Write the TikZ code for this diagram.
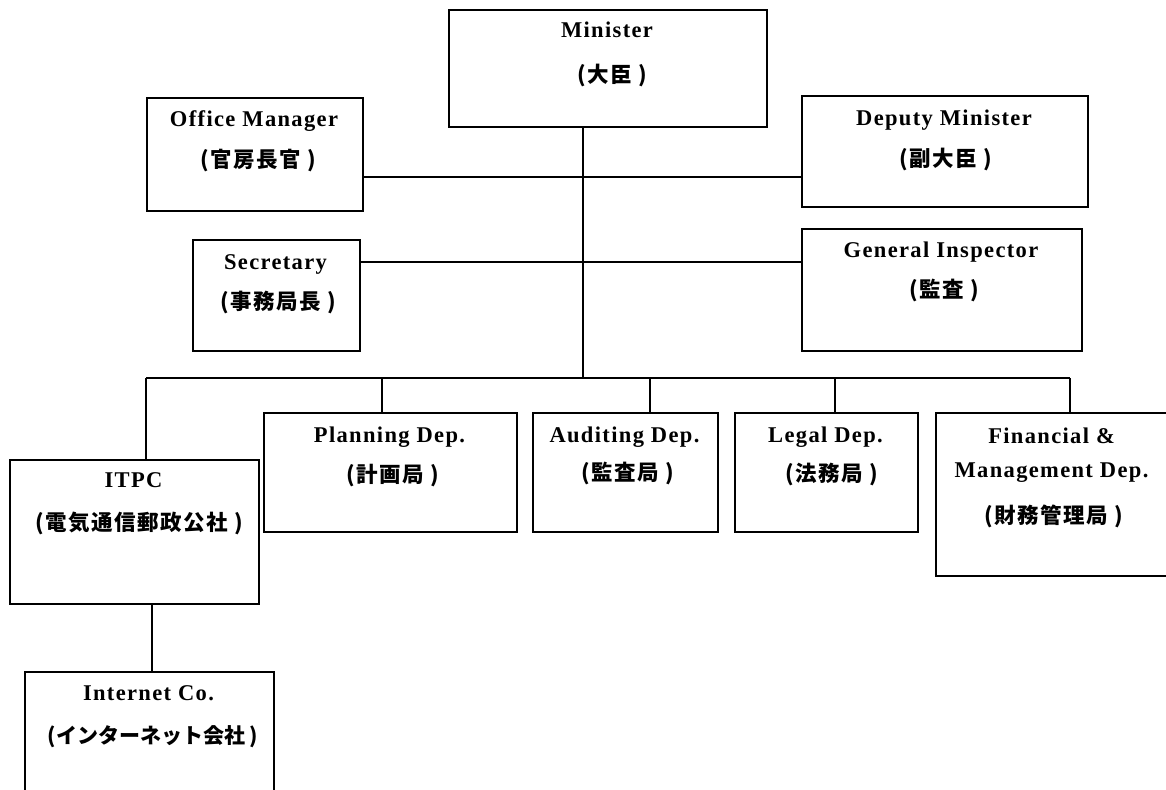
\documentclass[tikz,border=0pt]{standalone}
\usepackage{fontspec}
\newfontfamily\enfont{Liberation Serif}[LetterSpace=6]
\newfontfamily\jpfont{Noto Sans CJK JP}[LetterSpace=7]
\newfontfamily\jptightfont{Noto Sans CJK JP}
\usepackage{tikz}
\usetikzlibrary{positioning,calc}

\tikzset{
    unitbox/.style={draw, line width=2pt, anchor=north west, inner sep=0pt},
    link/.style={line width=1.6pt},
    entext/.style={font=\enfont\bfseries\fontsize{22.5}{27}\selectfont, anchor=base, inner sep=0pt},
    jptext/.style={font=\jpfont\bfseries\fontsize{21.5}{26}\selectfont, inner sep=0pt},
    jptight/.style={jptext, font=\jptightfont\bfseries\fontsize{21}{26}\selectfont}
}

\begin{document}
\begin{tikzpicture}[x=1pt, y=-1pt]
    \useasboundingbox (0,0) rectangle (1166,789);
    \fill[white] (0,0) rectangle (1166,789);
    \clip (0,0) rectangle (1166,789);

    % top level
    \node[unitbox, minimum width=318, minimum height=117] (mini) at (448,9) {};
    \node[entext] (mini-en) at (607,38) {Minister};
    \node[jptext] (mini-jp) at (612,76) {(大臣 )};

    \node[unitbox, minimum width=216, minimum height=113] (offm) at (146,97) {};
    \node[entext] (offm-en) at (254,127) {Office Manager};
    \node[jptext] (offm-jp) at (258,161) {(官房長官 )};

    \node[unitbox, minimum width=286, minimum height=111] (depm) at (801,95) {};
    \node[entext] (depm-en) at (944,125) {Deputy Minister};
    \node[jptext] (depm-jp) at (946,160) {(副大臣 )};

    \node[unitbox, minimum width=167, minimum height=111] (secr) at (192,239) {};
    \node[entext] (secr-en) at (275.5,269) {Secretary};
    \node[jptext] (secr-jp) at (278,302) {(事務局長 )};

    \node[unitbox, minimum width=280, minimum height=122] (insp) at (801,228) {};
    \node[entext] (insp-en) at (941,257) {General Inspector};
    \node[jptext] (insp-jp) at (944,291) {(監査 )};

    % departments
    \node[unitbox, minimum width=249, minimum height=144] (itpc) at (9,459) {};
    \node[entext] (itpc-en) at (133.5,487) {ITPC};
    \node[jptext] (itpc-jp) at (139,523) {(電気通信郵政公社 )};

    \node[unitbox, minimum width=253, minimum height=119] (plan) at (263,412) {};
    \node[entext] (plan-en) at (389.5,442) {Planning Dep.};
    \node[jptext] (plan-jp) at (393,476) {(計画局 )};

    \node[unitbox, minimum width=185, minimum height=119] (audi) at (532,412) {};
    \node[entext] (audi-en) at (624.5,442) {Auditing Dep.};
    \node[jptext] (audi-jp) at (628,474) {(監査局 )};

    \node[unitbox, minimum width=183, minimum height=119] (legl) at (734,412) {};
    \node[entext] (legl-en) at (825.5,442) {Legal Dep.};
    \node[jptext] (legl-jp) at (832,474) {(法務局 )};

    \node[unitbox, minimum width=233, minimum height=163] (fina) at (935,412) {};
    \node[entext] (fina-en1) at (1051.5,443) {Financial \&};
    \node[entext] (fina-en2) at (1051.5,477) {Management Dep.};
    \node[jptext] (fina-jp) at (1054,516) {(財務管理局 )};

    \node[unitbox, minimum width=249, minimum height=140] (inet) at (24,671) {};
    \node[entext] (inet-en) at (148.5,700) {Internet Co.};
    \node[jptight] (inet-jp) at (153,737) {(インターネット会社 )};

    % connectors
    \coordinate (trunk) at (583,378);
    \coordinate (busl) at (146,378);
    \coordinate (busr) at (1070,378);
    \draw[link] (trunk |- mini.south) -- (trunk);
    \draw[link] (offm.east |- 0,177) -- (depm.west |- 0,177);
    \draw[link] (secr.east |- 0,262) -- (insp.west |- 0,262);
    \draw[link] (busl) -- (busr);
    \foreach \n/\x in {itpc/146, plan/382, audi/650, legl/835, fina/1070}
        \draw[link] (\x,378) -- (\n.north -| \x,0);
    \draw[link] (itpc.south -| 152,0) -- (inet.north -| 152,0);
\end{tikzpicture}
\end{document}
